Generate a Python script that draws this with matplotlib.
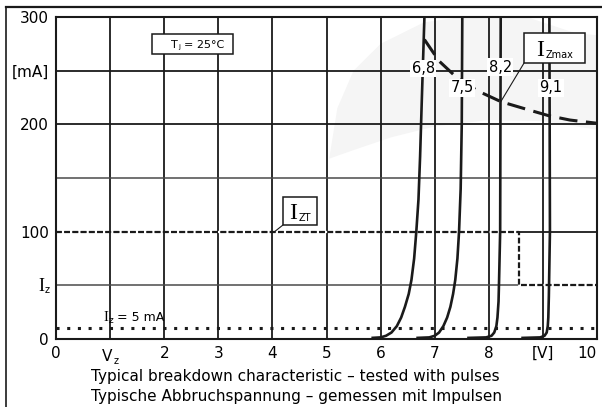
import numpy as np
import matplotlib
matplotlib.use('Agg')
import matplotlib.pyplot as plt
import matplotlib.transforms as mtransforms
from matplotlib.patches import Rectangle, Polygon
from matplotlib.lines import Line2D

plt.rcParams['font.family'] = ['DejaVu Sans']

# breakdown curves (V, mA)
v_68 = [5.83, 6.0, 6.1, 6.2, 6.3, 6.38, 6.45, 6.52, 6.57, 6.62, 6.66, 6.70, 6.73, 6.76, 6.81]
i_68 = [1, 1.5, 3, 6, 12, 20, 30, 42, 55, 75, 100, 130, 170, 220, 300]
v_75 = [6.66, 6.9, 7.0, 7.08, 7.16, 7.23, 7.29, 7.34, 7.38, 7.42, 7.45, 7.48, 7.50, 7.51]
i_75 = [1, 1.5, 3, 6, 12, 20, 30, 42, 55, 75, 100, 140, 200, 300]
v_82 = [7.60, 7.95, 8.05, 8.10, 8.14, 8.16, 8.18, 8.19, 8.21, 8.22]
i_82 = [1, 1.5, 3, 6, 12, 20, 35, 55, 100, 300]
v_91 = [8.60, 8.95, 9.03, 9.07, 9.09, 9.10, 9.11, 9.12, 9.13, 9.12]
i_91 = [1, 1.5, 3, 6, 12, 20, 40, 70, 100, 300]
curve_names = ['6,8', '7,5', '8,2', '9,1']
label_pos = [(6.79, 252), (7.51, 234), (8.21, 253), (9.15, 234)]

# I_Zmax limit
v_zmax = [6.81, 7.08, 7.42, 7.8, 8.23, 8.7, 9.11, 9.5, 10.0]
i_zmax = [279, 259, 243, 231, 221, 214, 208, 204, 201]

# I_ZT test current
v_zt = [0, 8.55, 8.55, 10]
i_zt = [100, 100, 50, 50]
i_5ma = 10

xticks = [0, 1, 2, 3, 4, 5, 6, 7, 8, 9, 10]
xlabels = ['0', '', '2', '3', '4', '5', '6', '7', '8', '[V]', '10']
yticks = [0, 50, 100, 200, 250, 300]
ylabels = ['0', '', '100', '200', '[mA]', '300']

fig = plt.figure(figsize=(6.02, 4.07), dpi=100)
ax = fig.add_axes([56 / 602, 68 / 407, 541 / 602, 322 / 407])
ax.set_xlim(0, 10)
ax.set_ylim(0, 300)
renderer = fig.canvas.get_renderer()


def sub_text(x, y, main, sub, size, subsize, ha='left', serif=True,
             trans=None, drop=2.0, zorder=7):
    # main letter with a small subscript, placed on a common baseline
    trans = ax.transData if trans is None else trans
    fam = 'Liberation Serif' if serif else 'DejaVu Sans'
    t1 = ax.text(x, y, main, fontsize=size, family=fam, ha='left', va='baseline',
                 transform=trans, zorder=zorder)
    t2 = ax.text(x, y, sub, fontsize=subsize, ha='left', va='baseline',
                 transform=trans, zorder=zorder)
    w1 = t1.get_window_extent(renderer).width
    w2 = t2.get_window_extent(renderer).width
    total = w1 + 1 + w2
    x0 = {'left': 0, 'center': -total / 2, 'right': -total}[ha]
    t1.set_transform(mtransforms.offset_copy(trans, fig=fig, x=x0, y=0, units='dots'))
    t2.set_transform(mtransforms.offset_copy(trans, fig=fig, x=x0 + w1 + 1, y=-drop,
                                             units='dots'))
    return t1, t2


# faint watermark swoosh
sw = Polygon([[5.05, 168], [5.2, 215], [5.5, 250], [6.0, 275], [6.8, 295], [7.5, 300],
              [8.7, 300], [9.6, 285], [10.0, 283], [10.0, 195], [9.0, 203], [8.0, 204],
              [7.0, 198], [6.2, 188], [5.5, 176]],
             closed=True, facecolor='#f5f5f5', edgecolor='none', zorder=0)
ax.add_patch(sw)

for x in range(1, 10):
    ax.axvline(x, color='#1a1a1a', lw=1.3, zorder=1)
for y in [100, 200, 250]:
    ax.axhline(y, color='#1a1a1a', lw=1.3, zorder=1)
for y in [50, 150]:
    ax.axhline(y, color='#4a4a4a', lw=1.1, zorder=1)
for s in ax.spines.values():
    s.set_linewidth(1.5)
    s.set_color('#1a1a1a')

ax.set_xticks(xticks)
ax.set_xticklabels(xlabels, fontsize=11)
ax.get_xticklabels()[-1].set_horizontalalignment('right')
ax.set_yticks(yticks)
ax.set_yticklabels(ylabels, fontsize=11)
ax.tick_params(length=0, pad=5)

# custom tick labels with subscripts
xt = mtransforms.blended_transform_factory(ax.transData, fig.transFigure)
sub_text(1, 1 - 361 / 407, 'V', 'z', 11, 7, ha='center', serif=False, trans=xt, drop=2.5)
yt = mtransforms.blended_transform_factory(fig.transFigure, ax.transData)
sub_text(50 / 602, 45, 'I', 'z', 13, 7, ha='right', trans=yt, drop=2.5)

# test currents
ax.plot(v_zt, i_zt, color='#1a1a1a', lw=1.6, ls=(0, (2.6, 1.1)), gapcolor='white',
        zorder=3)
ax.axhline(i_5ma, color='#1a1a1a', lw=2.2, ls=(0, (1, 2.5)), zorder=3)
sub_text(0.87, 17, 'I', 'z', 10.5, 6.5, drop=2)
ax.text(1.12, 17, '= 5 mA', fontsize=9, va='baseline', zorder=7)

for v, i in [(v_68, i_68), (v_75, i_75), (v_82, i_82), (v_91, i_91)]:
    ax.plot(v, i, color='#1a1a1a', lw=1.9, zorder=4, clip_on=False,
            solid_capstyle='butt', solid_joinstyle='round')

ax.plot(v_zmax, i_zmax, color='#1a1a1a', lw=2.2, ls=(0, (6, 2.8)), zorder=5)

for name, (x, y) in zip(curve_names, label_pos):
    ax.text(x, y, name, fontsize=10.5, ha='center', va='center', zorder=6,
            bbox=dict(boxstyle='square,pad=0.1', fc='white', ec='none'))

# boxes
ax.add_patch(Rectangle((1.77, 265.6), 1.5, 18.4, fc='white', ec='#1a1a1a', lw=1.1, zorder=6))
sub_text(2.12, 271.5, 'T', 'j', 8, 5, serif=False, drop=1.5)
ax.text(2.36, 271.5, '= 25°C', fontsize=8, va='baseline', zorder=7)

ax.add_patch(Rectangle((8.65, 257), 1.13, 28, fc='white', ec='#1a1a1a', lw=1.1, zorder=6))
sub_text(9.22, 264, 'I', 'Zmax', 17, 7, ha='center', drop=2.5)
ax.plot([8.65, 8.22], [257, 221], color='#1a1a1a', lw=0.8, zorder=6)

ax.add_patch(Rectangle((4.19, 106), 0.64, 26, fc='white', ec='#1a1a1a', lw=1.1, zorder=6))
sub_text(4.51, 112, 'I', 'ZT', 17, 7, ha='center', drop=2.5)
ax.plot([4.19, 4.04], [106, 100], color='#1a1a1a', lw=0.8, zorder=6)

fig.text(91 / 602, 1 - 377 / 407, 'Typical breakdown characteristic \u2013 tested with pulses',
         fontsize=11, ha='left', va='center')
fig.text(91 / 602, 1 - 396 / 407, 'Typische Abbruchspannung \u2013 gemessen mit Impulsen',
         fontsize=11, ha='left', va='center')

# outer frame (top and left only)
fig.add_artist(Line2D([6 / 602, 1], [1 - 7 / 407, 1 - 7 / 407], color='#1a1a1a', lw=1.6,
                      transform=fig.transFigure))
fig.add_artist(Line2D([6 / 602, 6 / 602], [0, 1 - 7 / 407], color='#1a1a1a', lw=1.2,
                      transform=fig.transFigure))

fig.savefig('out.png', dpi=100)
